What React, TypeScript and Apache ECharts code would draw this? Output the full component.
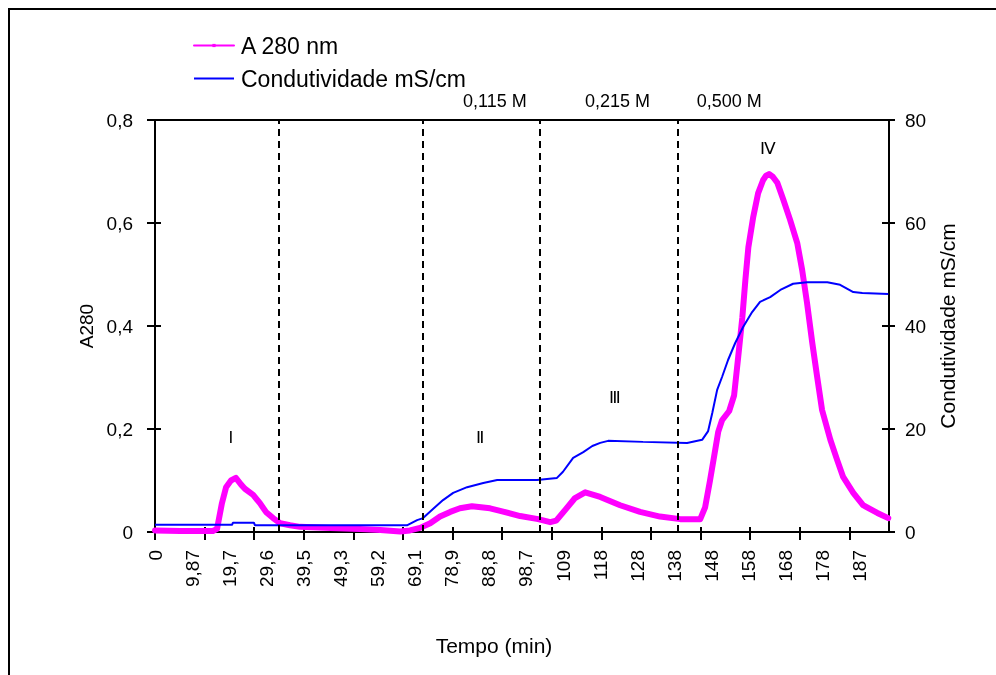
import React, { useEffect, useRef } from 'react';
import * as echarts from 'echarts';

const FONT = "'Liberation Sans', Arial, Helvetica, sans-serif";

// X axis (time, min): labels every 9.866 min, ticks every 13.19 min
const xTickLabels = ['0', '9,87', '19,7', '29,6', '39,5', '49,3', '59,2', '69,1', '78,9', '88,8', '98,7', '109', '118', '128', '138', '148', '158', '168', '178', '187'];
const xLabelStep = 9.866;
const xTickStep = 13.19;
const xTickCount = 15;
const xMax = 195.2;

// A280 series
const a280Time = [0, 6.7, 15.4, 16.5, 17.8, 18.9, 20.2, 21.5, 22.9, 23.9, 26.1, 27.9, 29.5, 31.4, 33.3, 35.9, 38.6, 46.6, 54.5, 59.9, 65.2, 67.8, 70.5, 73.2, 75.8, 78.5, 81.1, 84.3, 89.1, 91.8, 97.1, 101.9, 105.1, 106.7, 109.1, 111.7, 114.4, 118.4, 123.7, 129.0, 134.3, 139.7, 145.0, 146.3, 147.6, 149.0, 149.8, 150.8, 152.7, 154.0, 155.1, 156.2, 157.0, 157.8, 159.1, 160.4, 161.7, 162.5, 163.3, 164.3, 165.5, 167.1, 168.9, 170.8, 172.1, 173.4, 174.8, 176.1, 177.4, 179.6, 181.4, 183.0, 185.7, 188.3, 192.1, 195.0];
const a280Value = [0.003, 0.002, 0.002, 0.006, 0.056, 0.087, 0.100, 0.105, 0.092, 0.084, 0.072, 0.056, 0.039, 0.027, 0.017, 0.013, 0.010, 0.008, 0.006, 0.004, 0.001, 0.003, 0.008, 0.017, 0.030, 0.039, 0.046, 0.050, 0.046, 0.041, 0.031, 0.025, 0.019, 0.022, 0.043, 0.066, 0.077, 0.068, 0.052, 0.039, 0.030, 0.025, 0.025, 0.048, 0.100, 0.160, 0.195, 0.217, 0.235, 0.265, 0.340, 0.417, 0.489, 0.553, 0.612, 0.658, 0.683, 0.692, 0.695, 0.690, 0.678, 0.645, 0.606, 0.561, 0.509, 0.445, 0.367, 0.301, 0.237, 0.179, 0.140, 0.107, 0.076, 0.052, 0.037, 0.027];

// Conductivity series (mS/cm)
const condTime = [0, 20.5, 20.7, 26.3, 26.6, 67.0, 69.7, 71.3, 74.0, 76.6, 79.3, 83.0, 87.3, 91.0, 101.6, 106.9, 108.5, 111.2, 113.9, 116.3, 118.4, 120.5, 129.8, 141.5, 145.5, 147.1, 148.2, 149.5, 150.8, 152.4, 154.3, 156.4, 158.8, 160.9, 163.6, 166.3, 169.7, 173.4, 178.8, 182.2, 185.7, 188.1, 195.0];
const condValue = [1.4, 1.4, 1.8, 1.8, 1.3, 1.3, 2.3, 2.7, 4.5, 6.2, 7.6, 8.7, 9.5, 10.1, 10.1, 10.5, 11.7, 14.4, 15.5, 16.7, 17.3, 17.7, 17.5, 17.3, 17.9, 19.6, 23.1, 27.6, 30.1, 33.4, 36.7, 39.8, 42.7, 44.7, 45.6, 47.0, 48.2, 48.5, 48.5, 48.0, 46.6, 46.4, 46.2];

// Annotations
const dividerTimes = [33.0, 71.2, 102.2, 138.9];
const concLabels = ['0,115 M', '0,215 M', '0,500 M'];
const concTimes = [90.4, 123.0, 152.7];
const peakLabels = ['I', 'Ⅱ', 'Ⅲ', 'Ⅳ'];
const peakTimes = [20.2, 86.5, 122.4, 163.1];
const peakLevels = [0.184, 0.184, 0.262, 0.744];

const seriesNames = ['A 280 nm', 'Condutividade mS/cm'];

export default function App() {
  const ref = useRef<HTMLDivElement>(null);

  useEffect(() => {
    if (!ref.current) return;
    const chart = echarts.init(ref.current, undefined, { renderer: 'svg' });

    const labelVals = xTickLabels.map((_, i) => i * xLabelStep);
    const tickVals = Array.from({ length: xTickCount }, (_, i) => i * xTickStep);
    const black = '#000';
    const axisLine = { show: true, onZero: false, lineStyle: { color: black, width: 2 } };
    const hiddenLine = { show: true, onZero: false, lineStyle: { color: 'rgba(0,0,0,0)', width: 0 } };
    const tickStyle = { color: black, width: 2 };

    const option: any = {
      animation: false,
      backgroundColor: 'transparent',
      textStyle: { fontFamily: FONT, color: black },
      grid: { left: 155, right: 107, top: 120, bottom: 143, containLabel: false },
      legend: {
        orient: 'vertical',
        left: 193,
        top: 34,
        padding: 0,
        itemGap: 10,
        itemWidth: 40,
        itemHeight: 4,
        textStyle: { fontSize: 23, fontFamily: FONT, color: black, padding: [0, 0, 0, 2], lineHeight: 23 },
        data: [
          { name: seriesNames[0], lineStyle: { width: 2 } },
          { name: seriesNames[1], lineStyle: { width: 2 }, itemStyle: { opacity: 0 } },
        ],
      },
      xAxis: [
        {
          type: 'value', min: 0, max: xMax, interval: xLabelStep, position: 'bottom',
          axisLine,
          axisTick: { show: false },
          axisLabel: {
            customValues: labelVals, rotate: 90, margin: 18, fontSize: 19, color: black, fontFamily: FONT,
            formatter: (v: number) => {
              const k = Math.round(v / xLabelStep);
              if (Math.abs(v / xLabelStep - k) > 0.01) return '';
              return xTickLabels[k] ?? '';
            },
          },
          splitLine: { show: false },
          name: 'Tempo (min)', nameLocation: 'middle', nameGap: 103,
          nameTextStyle: { fontSize: 21, color: black, fontFamily: FONT, padding: [0, 56, 0, 0] },
        },
        {
          type: 'value', min: 0, max: xMax, interval: xTickStep, position: 'bottom', offset: -5,
          axisLine: hiddenLine,
          axisTick: { show: true, inside: false, length: 13, lineStyle: tickStyle, customValues: tickVals },
          axisLabel: { show: false },
          splitLine: { show: false },
        },
        {
          type: 'value', min: 0, max: xMax, position: 'top',
          axisLine,
          axisTick: { show: false }, axisLabel: { show: false }, splitLine: { show: false },
        },
      ],
      yAxis: [
        {
          type: 'value', min: 0, max: 0.8, interval: 0.2, position: 'left',
          axisLine, axisTick: { show: false },
          axisLabel: { margin: 22, fontSize: 19, color: black, fontFamily: FONT, formatter: (v: number) => String(Math.round(v * 10) / 10).replace('.', ',') },
          splitLine: { show: false },
          name: 'A280', nameLocation: 'middle', nameGap: 49,
          nameTextStyle: { fontSize: 19, color: black, fontFamily: FONT },
        },
        {
          type: 'value', min: 0, max: 80, interval: 20, position: 'right',
          axisLine, axisTick: { show: false },
          axisLabel: { margin: 16, fontSize: 19, color: black, fontFamily: FONT },
          splitLine: { show: false },
          name: 'Condutividade mS/cm', nameLocation: 'middle', nameGap: 48,
          nameTextStyle: { fontSize: 21, color: black, fontFamily: FONT },
        },
        {
          type: 'value', min: 0, max: 0.8, interval: 0.2, position: 'left', offset: -6,
          axisLine: hiddenLine, axisTick: { show: true, inside: false, length: 14, lineStyle: tickStyle },
          axisLabel: { show: false }, splitLine: { show: false },
        },
        {
          type: 'value', min: 0, max: 80, interval: 20, position: 'right', offset: -7,
          axisLine: hiddenLine, axisTick: { show: true, inside: false, length: 13, lineStyle: tickStyle },
          axisLabel: { show: false }, splitLine: { show: false },
        },
      ],
      series: [
        {
          name: seriesNames[0], type: 'line', xAxisIndex: 0, yAxisIndex: 0,
          data: a280Time.map((t, i) => [t, a280Value[i]]),
          showSymbol: false, symbol: 'rect', symbolSize: 3,
          color: '#FF00FF',
          lineStyle: { color: '#FF00FF', width: 6, join: 'round', cap: 'round' },
          z: 3,
          markLine: {
            silent: true, symbol: ['none', 'none'],
            label: { show: false },
            lineStyle: { color: black, type: [7, 5], width: 2 },
            data: dividerTimes.map((t) => ({ xAxis: t })),
          },
          markPoint: {
            silent: true, symbol: 'circle', symbolSize: 0,
            label: { show: true, formatter: '{b}', color: black, fontSize: 17, fontFamily: FONT },
            data: peakLabels.map((p, i) => ({ name: p, coord: [peakTimes[i], peakLevels[i]] })),
          },
        },
        {
          name: seriesNames[1], type: 'line', xAxisIndex: 0, yAxisIndex: 1,
          data: condTime.map((t, i) => [t, condValue[i]]),
          showSymbol: false, symbol: 'none',
          color: '#0000FF',
          lineStyle: { color: '#0000FF', width: 2 },
          z: 4,
          markPoint: {
            silent: true, symbol: 'circle', symbolSize: 0,
            label: { show: true, formatter: '{b}', color: black, fontSize: 18, fontFamily: FONT, offset: [0, -19] },
            data: concLabels.map((c, i) => ({ name: c, coord: [concTimes[i], 80] })),
          },
        },
      ],
    };

    chart.setOption(option);
    return () => chart.dispose();
  }, []);

  return (
    <>
      <div style={{ position: 'fixed', left: 8, top: 8, width: 1000, height: 700, borderTop: '2px solid #000', borderLeft: '2px solid #000', boxSizing: 'border-box' }} />
      <div ref={ref} style={{ position: 'fixed', left: 0, top: 0, width: 996, height: 675 }} />
    </>
  );
}
